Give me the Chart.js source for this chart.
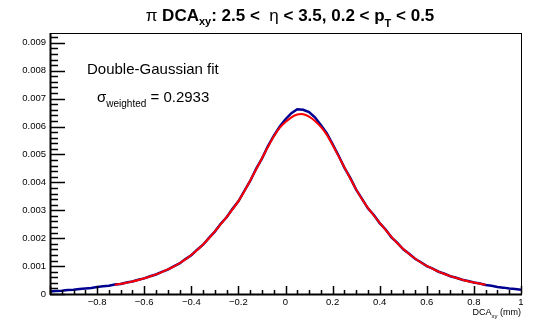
<!DOCTYPE html>
<html>
<head>
<meta charset="utf-8">
<script src="https://cdn.jsdelivr.net/npm/chart.js@4.4.1/dist/chart.umd.min.js"></script>
<style>
  html, body { margin: 0; padding: 0; background: #fff; }
  canvas { display: block; }
</style>
</head>
<body>
<canvas id="c" width="551" height="320"></canvas>
<script>
// DCA_xy bin centres (mm)
const dcaBins = [
  -1.000, -0.975, -0.950, -0.925, -0.900, -0.875, -0.850, -0.825, -0.800, -0.775,
  -0.750, -0.725, -0.700, -0.675, -0.650, -0.625, -0.600, -0.575, -0.550, -0.525,
  -0.500, -0.475, -0.450, -0.425, -0.400, -0.375, -0.350, -0.325, -0.300, -0.275,
  -0.250, -0.225, -0.200, -0.175, -0.150, -0.125, -0.100, -0.075, -0.050, -0.025,
   0.000,  0.025,  0.050,  0.075,  0.100,  0.125,  0.150,  0.175,  0.200,  0.225,
   0.250,  0.275,  0.300,  0.325,  0.350,  0.375,  0.400,  0.425,  0.450,  0.475,
   0.500,  0.525,  0.550,  0.575,  0.600,  0.625,  0.650,  0.675,  0.700,  0.725,
   0.750,  0.775,  0.800,  0.825,  0.850,  0.875,  0.900,  0.925,  0.950,  0.975,
   1.000
];

// histogram (blue), in units of 1e-3
const dataVals = [
  0.090, 0.110, 0.118, 0.142, 0.155, 0.182, 0.200, 0.216, 0.248, 0.276,
  0.298, 0.338, 0.362, 0.410, 0.446, 0.510, 0.560, 0.634, 0.698, 0.792,
  0.874, 0.992, 1.096, 1.250, 1.390, 1.588, 1.766, 2.010, 2.236, 2.516,
  2.748, 3.050, 3.318, 3.690, 4.050, 4.480, 4.850, 5.290, 5.660, 5.990,
  6.260, 6.480, 6.620, 6.600, 6.520, 6.330, 6.050, 5.760, 5.370, 4.960,
  4.530, 4.160, 3.740, 3.410, 3.070, 2.830, 2.540, 2.310, 2.030, 1.830,
  1.600, 1.440, 1.262, 1.136, 0.998, 0.906, 0.798, 0.724, 0.636, 0.580,
  0.510, 0.466, 0.410, 0.374, 0.326, 0.294, 0.250, 0.228, 0.194, 0.178,
  0.150
];

// double-Gaussian fit (red), in units of 1e-3, null outside fit range
const fitVals = [
  null, null, null, null, null, null, null, null, null, null,
  null, 0.332, 0.366, 0.406, 0.450, 0.504, 0.564, 0.628, 0.702, 0.786,
  0.880, 0.984, 1.102, 1.240, 1.398, 1.576, 1.774, 1.996, 2.244, 2.500,
  2.758, 3.032, 3.328, 3.672, 4.060, 4.460, 4.860, 5.260, 5.640, 5.948,
  6.160, 6.328, 6.430, 6.440, 6.352, 6.200, 5.988, 5.710, 5.340, 4.940,
  4.540, 4.140, 3.748, 3.392, 3.088, 2.812, 2.550, 2.296, 2.044, 1.816,
  1.614, 1.432, 1.270, 1.128, 1.006, 0.900, 0.804, 0.718, 0.642, 0.576,
  0.516, 0.460, 0.414, 0.370, 0.330, null, null, null, null, null,
  null
];

const xTicks = [-1, -0.8, -0.6, -0.4, -0.2, 0, 0.2, 0.4, 0.6, 0.8, 1];
const yTicks = [0, 0.001, 0.002, 0.003, 0.004, 0.005, 0.006, 0.007, 0.008, 0.009];

const FONT = 'Liberation Sans, Arial, Helvetica, sans-serif';

function toPoints(vals) {
  var pts = [];
  vals.forEach(function (v, i) {
    if (v !== null) pts.push({ x: dcaBins[i], y: v * 0.001 });
  });
  return pts;
}

// draws a row of text pieces (with subscripts)
function drawRuns(ctx, runs, x, y, align) {
  var total = 0;
  runs.forEach(function (r) { ctx.font = r[1]; total += ctx.measureText(r[0]).width; });
  var cx = align === 'center' ? x - total / 2 : (align === 'right' ? x - total : x);
  ctx.textAlign = 'left';
  ctx.textBaseline = 'alphabetic';
  runs.forEach(function (r) {
    ctx.font = r[1];
    ctx.fillText(r[0], cx, y + (r[2] || 0));
    cx += ctx.measureText(r[0]).width;
  });
}

const rootStyle = {
  id: 'rootStyle',
  afterDraw: function (chart) {
    var ctx = chart.ctx, a = chart.chartArea;
    var xs = chart.scales.x, ys = chart.scales.y;
    ctx.save();
    ctx.strokeStyle = '#000';
    ctx.fillStyle = '#000';

    // frame
    ctx.lineWidth = 1;
    ctx.strokeRect(a.left + 0.5, a.top + 0.5, a.right - a.left, a.bottom - a.top);

    // y ticks (inside)
    ctx.lineWidth = 1.5;
    ctx.beginPath();
    for (var i = 0; i <= 46; i++) {
      var v = i * 0.0002;
      if (v > ys.max) break;
      var py = Math.round(ys.getPixelForValue(v)) + 0.5;
      var len = (i % 5 === 0) ? 15 : 8;
      ctx.moveTo(a.left, py);
      ctx.lineTo(a.left + len, py);
    }
    // x ticks (inside)
    for (var j = 0; j <= 40; j++) {
      var xv = -1 + j * 0.05;
      var px = Math.round(xs.getPixelForValue(xv)) + 0.5;
      var l2 = (j % 4 === 0) ? 8 : 4;
      ctx.moveTo(px, a.bottom);
      ctx.lineTo(px, a.bottom - l2);
    }
    ctx.stroke();

    // axes
    ctx.lineWidth = 2;
    ctx.beginPath();
    ctx.moveTo(a.left + 0.5, a.top);
    ctx.lineTo(a.left + 0.5, a.bottom + 1);
    ctx.moveTo(a.left, a.bottom + 0.5);
    ctx.lineTo(a.right + 1, a.bottom + 0.5);
    ctx.stroke();

    // title
    drawRuns(ctx, [
      ['\u03C0 ', '17px ' + FONT],
      ['DCA', 'bold 17px ' + FONT],
      ['xy', 'bold 11px ' + FONT, 4],
      [': 2.5 <  ', 'bold 17px ' + FONT],
      ['\u03B7', '17px ' + FONT],
      [' < 3.5, 0.2 < p', 'bold 17px ' + FONT],
      ['T', 'bold 11px ' + FONT, 6],
      [' < 0.5', 'bold 17px ' + FONT]
    ], 290, 21, 'center');

    // fit annotations
    drawRuns(ctx, [['Double-Gaussian fit', '15px ' + FONT]], 87, 74, 'left');
    drawRuns(ctx, [
      ['\u03C3', '15px ' + FONT],
      ['weighted', '10px ' + FONT, 5],
      [' = 0.2933', '15px ' + FONT]
    ], 97, 102, 'left');

    // x axis title
    drawRuns(ctx, [
      ['DCA', '9px ' + FONT],
      ['xy', '6px ' + FONT, 3],
      [' (mm)', '9px ' + FONT]
    ], a.right, 315, 'right');

    ctx.restore();
  }
};

new Chart(document.getElementById('c'), {
  type: 'scatter',
  data: {
    datasets: [
      {
        label: 'fit',
        data: toPoints(fitVals),
        showLine: true,
        borderColor: '#ff0000',
        borderWidth: 2,
        pointRadius: 0,
        tension: 0.3,
        order: 0
      },
      {
        label: 'data',
        data: toPoints(dataVals),
        showLine: true,
        borderColor: '#000090',
        borderWidth: 2.5,
        pointRadius: 0,
        tension: 0,
        order: 1
      }
    ]
  },
  options: {
    responsive: false,
    animation: false,
    devicePixelRatio: 1,
    layout: { padding: { top: 33, right: 30, left: 0, bottom: 0 } },
    plugins: { legend: { display: false }, title: { display: false }, tooltip: { enabled: false } },
    scales: {
      x: {
        type: 'linear',
        min: -1,
        max: 1,
        grid: { display: false, drawTicks: false, tickLength: 0 },
        border: { display: false },
        afterBuildTicks: function (s) { s.ticks = xTicks.map(function (v) { return { value: v }; }); },
        afterFit: function (s) { s.height = 26; },
        ticks: {
          color: '#000',
          font: { family: FONT, size: 9.5 },
          padding: 3,
          maxRotation: 0,
          autoSkip: false,
          callback: function (v) {
            if (v === -1) return '';
            if (v === 0) return '0';
            if (v === 1) return '1';
            return (v < 0 ? '\u2212' : '') + Math.abs(v).toFixed(1);
          }
        }
      },
      y: {
        type: 'linear',
        min: 0,
        max: 0.00935,
        grid: { display: false, drawTicks: false, tickLength: 0 },
        border: { display: false },
        afterBuildTicks: function (s) { s.ticks = yTicks.map(function (v) { return { value: v }; }); },
        afterFit: function (s) { s.width = 50; },
        ticks: {
          color: '#000',
          font: { family: FONT, size: 9.5 },
          padding: 4,
          autoSkip: false,
          callback: function (v) { return v === 0 ? '0' : v.toFixed(3); }
        }
      }
    }
  },
  plugins: [rootStyle]
});
</script>
</body>
</html>
